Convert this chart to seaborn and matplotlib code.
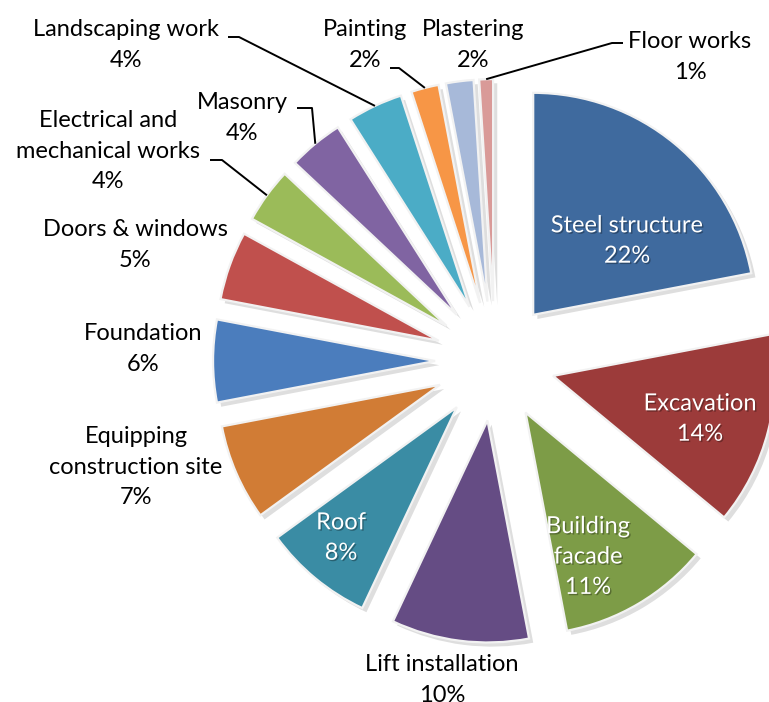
import numpy as np
import matplotlib
matplotlib.use("Agg")
import matplotlib.pyplot as plt
import matplotlib.patheffects as pe
import seaborn as sns

# Cost breakdown of the construction works (percent of total)
categories = [
    "Steel structure", "Excavation", "Building\nfacade", "Lift installation",
    "Roof", "Equipping\nconstruction site", "Foundation", "Doors & windows",
    "Electrical and\nmechanical works", "Masonry", "Landscaping work",
    "Painting", "Plastering", "Floor works",
]
shares = [22, 14, 11, 10, 8, 7, 6, 5, 4, 4, 4, 2, 2, 1]

colors = [
    "#3F6A9E", "#9C3B3A", "#7D9C47", "#654C84", "#3A8CA4", "#D17C35",
    "#4B7DBD", "#C0504D", "#9BBB59", "#8064A2", "#4BACC6", "#F79646",
    "#A7B9D9", "#D99A98",
]

sns.set_theme(style="white")
plt.rcParams["font.family"] = ["Lato", "DejaVu Sans"]

W, H = 769, 702
R_PX = 222.0          # pie radius in pixels
CX, CY = 495.0, 361.0  # pie centre in pixels


def px(x, y):
    """Pixel position -> data coordinates (pie radius = 1)."""
    return (x - CX) / R_PX, (CY - y) / R_PX


fig = plt.figure(figsize=(W / 100, H / 100), dpi=100)
ax = fig.add_axes([0, 0, 1, 1])

wedges, _ = ax.pie(
    shares,
    colors=colors,
    startangle=90,
    counterclock=False,
    explode=[0.27] * len(shares),
    radius=1.0,
    wedgeprops=dict(edgecolor="#F2F2F2", linewidth=1.6),
)
for w in wedges:
    w.set_path_effects([
        pe.SimplePatchShadow(offset=(3, -3), shadow_rgbFace="#000000", alpha=0.13),
        pe.Normal(),
    ])

ax.set_xlim(-CX / R_PX, (W - CX) / R_PX)
ax.set_ylim(-(H - CY) / R_PX, CY / R_PX)
ax.set_aspect("equal", adjustable="datalim")
ax.axis("off")

FS = 17
LS = 1.55

# labels drawn inside the large slices (white)
inside = {0: (627, 241), 1: (700, 419), 2: (588, 557), 4: (341, 538)}
# labels drawn outside the pie (black)
outside = {3: (442, 680), 5: (136, 467), 6: (143, 349), 7: (135, 245),
           8: (108, 151), 9: (242, 118), 10: (126, 45), 11: (365, 45),
           12: (473, 45), 13: (690, 57)}
# leader-line start points (end of the short horizontal stroke next to the text)
leaders = {8: [(210, 160), (222, 160)], 9: [(297, 108), (312, 108)],
           10: [(228, 37), (239, 37)], 11: [(390, 68), (399, 68)],
           13: [(623, 43), (612, 43)]}

for i, (x, y) in inside.items():
    ax.text(*px(x, y), f"{categories[i]}\n{shares[i]}%", color="white",
            ha="center", va="center", fontsize=FS, linespacing=LS,
            path_effects=[pe.withSimplePatchShadow(offset=(1, -1),
                                                   shadow_rgbFace="black", alpha=0.3)])

for i, (x, y) in outside.items():
    ax.text(*px(x, y), f"{categories[i]}\n{shares[i]}%", color="black",
            ha="center", va="center", fontsize=FS, linespacing=LS)

for i, pts in leaders.items():
    w = wedges[i]
    mid = np.deg2rad((w.theta1 + w.theta2) / 2)
    ex, ey = w.center[0] + w.r * np.cos(mid), w.center[1] + w.r * np.sin(mid)
    xs = [px(*p)[0] for p in pts] + [ex]
    ys = [px(*p)[1] for p in pts] + [ey]
    ax.plot(xs, ys, color="black", lw=1.4, solid_capstyle="butt")

fig.savefig("out.png", dpi=100, facecolor="white")
